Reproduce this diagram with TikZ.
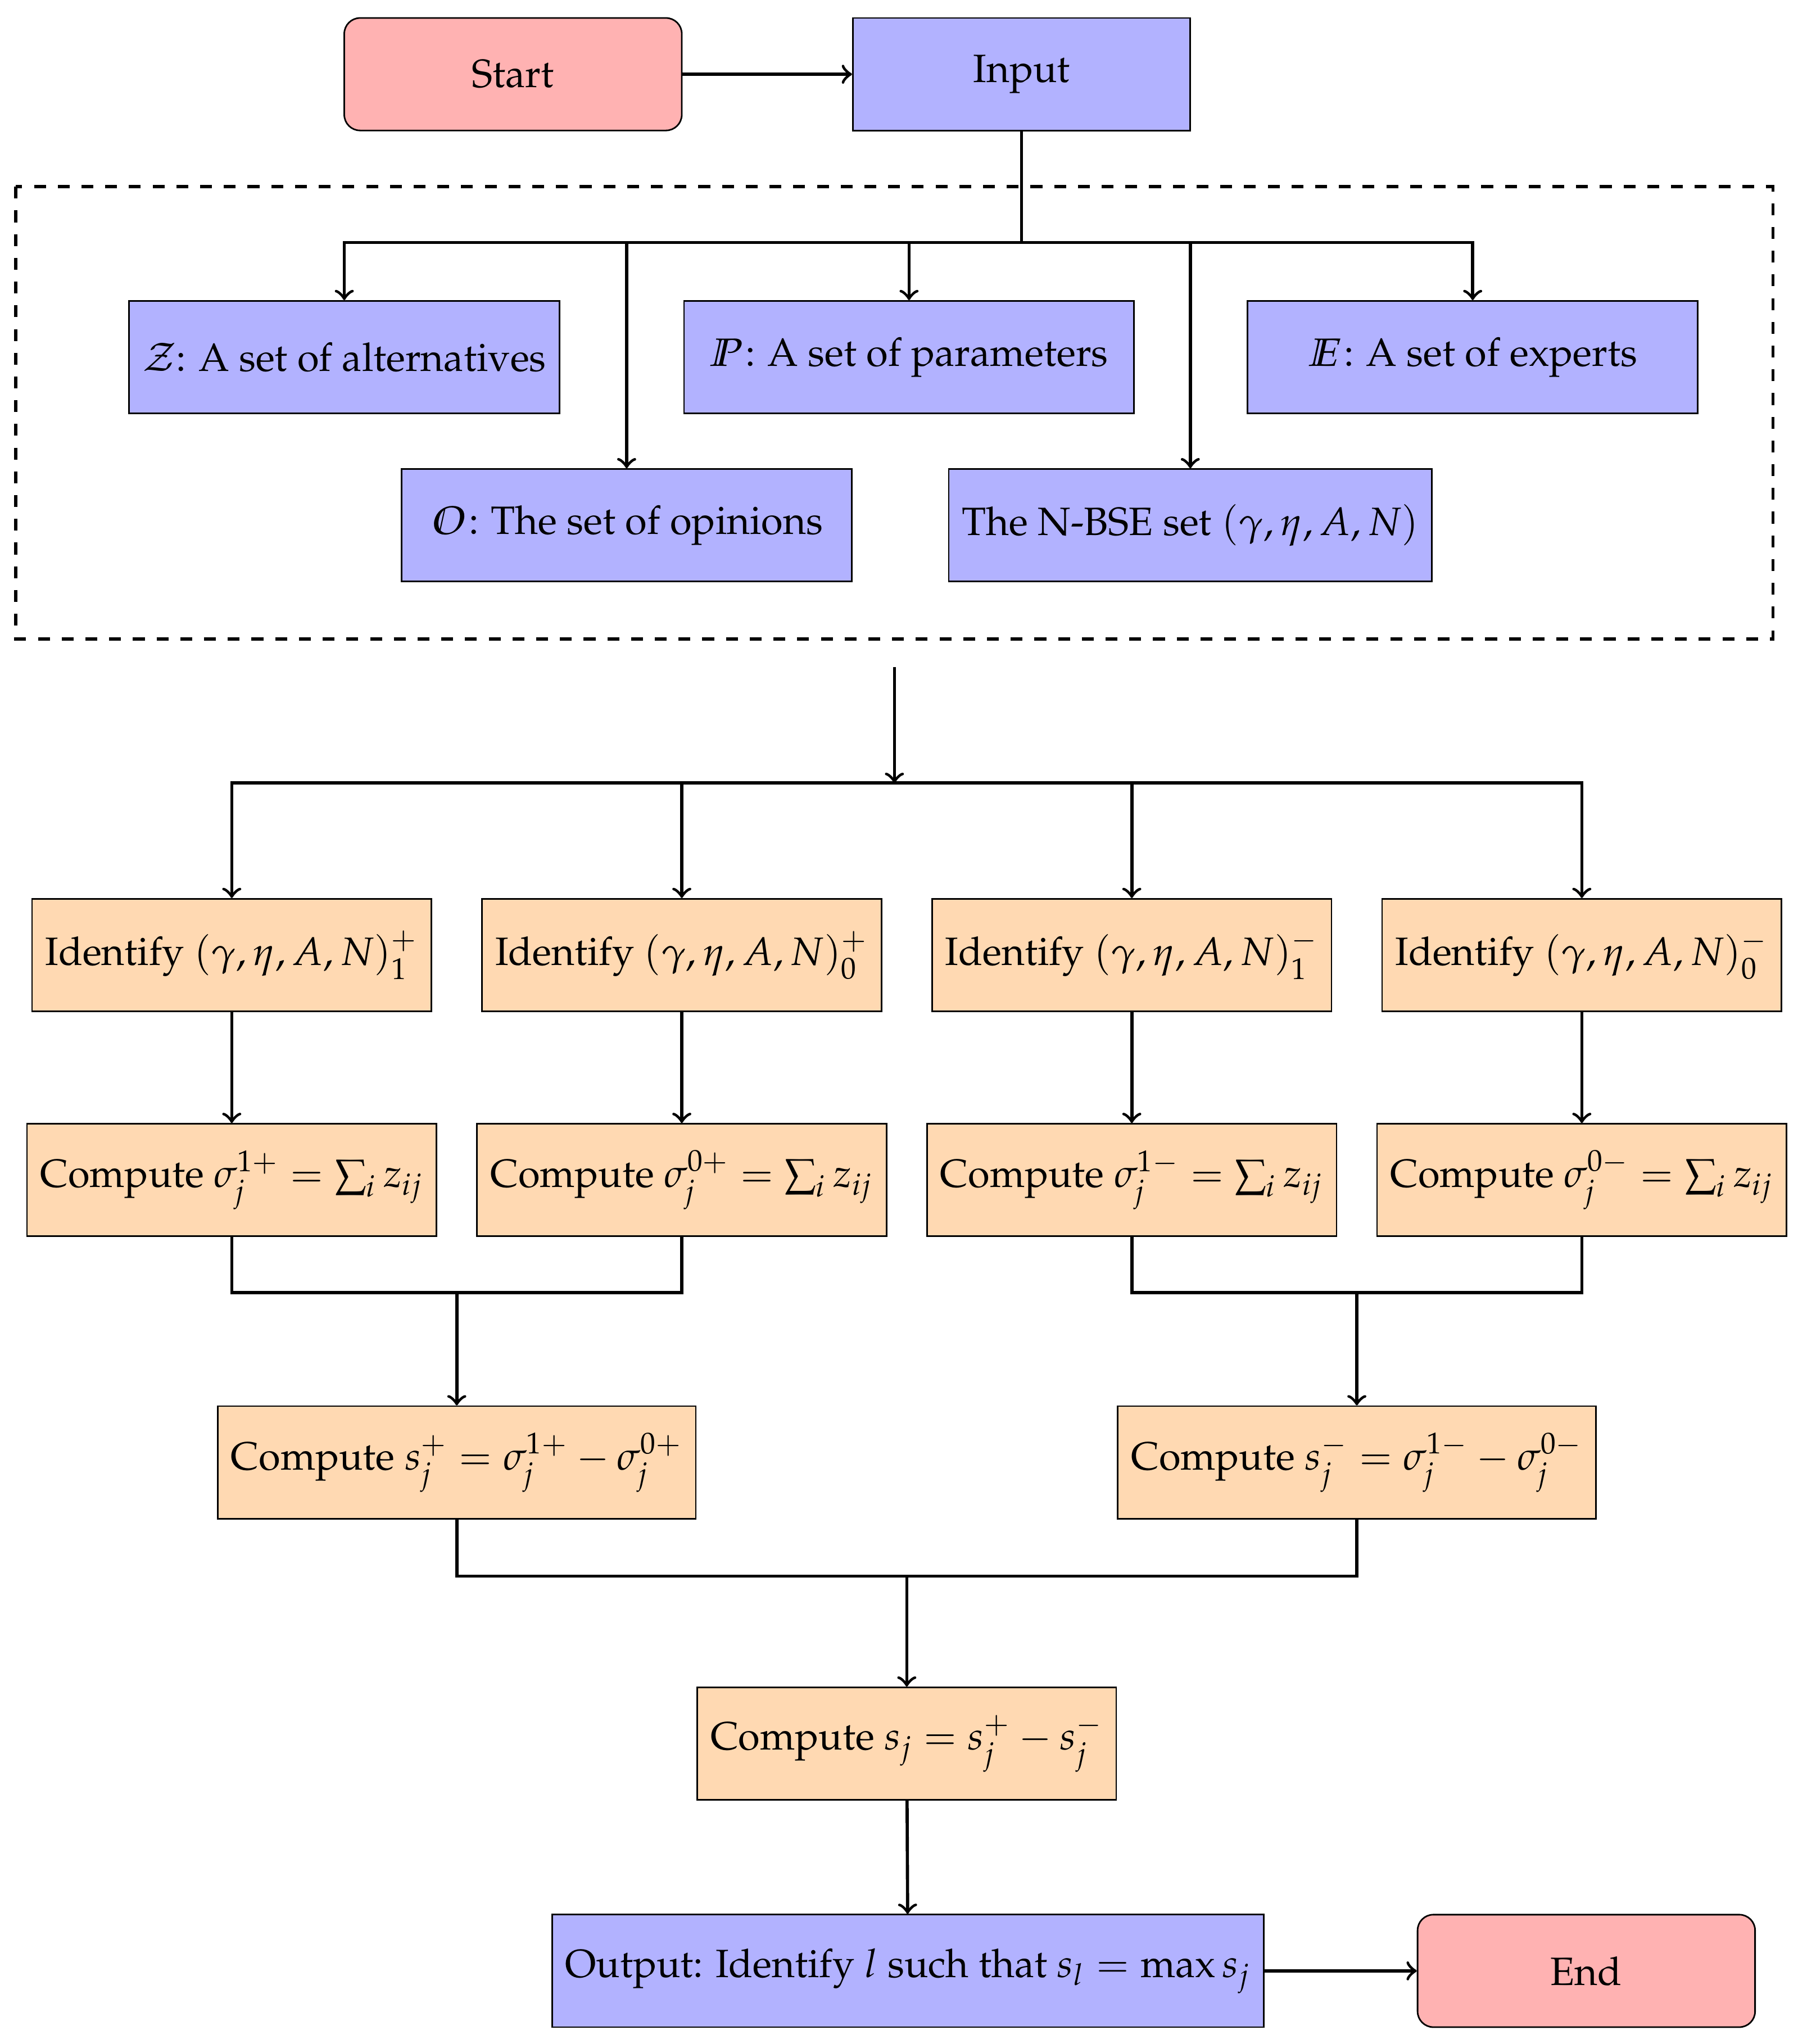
\documentclass[tikz,border=0pt]{standalone}
\usepackage[T1]{fontenc}
\usepackage{amsmath}
\usepackage{mathpazo}
\usetikzlibrary{positioning}
\tikzset{
  terminal/.style={rectangle,rounded corners,minimum width=3cm,minimum height=1cm,draw=black,fill=red!30},
  datain/.style={rectangle,minimum width=3cm,minimum height=1cm,draw=black,fill=blue!30},
  process/.style={rectangle,minimum width=3cm,minimum height=1cm,draw=black,fill=orange!30},
  arrow/.style={thick,->},
  joint/.style={thick}
}
% slanted blackboard letter
\newcommand\slbb[1]{\tikz[baseline=(b.base)]\node[inner sep=0pt,outer sep=0pt,minimum width=0pt,minimum height=0pt,draw=none,fill=none,xslant=0.22,transform shape] (b) {$\mathbb{#1}$};}
\begin{document}
\begin{tikzpicture}
\useasboundingbox (0,0) rectangle (16.06,-18.17);
% top row
\node[terminal] (start) at (4.56,-0.66) {Start};
\node[datain] (input) at (9.08,-0.66) {Input};
\draw[arrow] (start) -- (input);
% input sets
\draw[thick,dashed] (0.14,-1.66) rectangle (15.76,-5.68);
\node[datain] (zset) at (3.06,-3.175) {$\mathcal{Z}$: A set of alternatives};
\node[datain,minimum width=4cm] (pset) at (8.08,-3.175) {\slbb{P}: A set of parameters};
\node[datain,minimum width=4cm] (eset) at (13.09,-3.175) {\slbb{E}: A set of experts};
\node[datain,minimum width=4cm] (oset) at (5.57,-4.67) {\slbb{O}: The set of opinions};
\node[datain] (nbse) at (10.58,-4.67) {The N-BSE set $(\gamma,\eta,A,N)$};
\coordinate (split1) at (9.08,-2.155);
\draw[joint] (input) -- (split1);
\foreach \n in {zset,pset,eset,oset,nbse}
  \draw[arrow] (split1) -| (\n.north);
% four branches
\coordinate (gap) at (7.95,-5.93);
\coordinate (split2) at (7.95,-6.96);
\draw[arrow] (gap) -- (split2);
\foreach \i/\x/\p/\q in {1/2.06/1/+,2/6.06/0/+,3/10.06/1/-,4/14.06/0/-}{
  \node[process] (id\i) at (\x,-8.49) {Identify $(\gamma,\eta,A,N)_{\p}^{\q}$};
  \node[process] (sig\i) at (\x,-10.49) {Compute $\sigma_j^{\p\q}=\sum_i z_{ij}$};
  \draw[arrow] (split2) -| (id\i.north);
  \draw[arrow] (id\i) -- (sig\i);
}
% scores
\node[process] (splus) at (4.06,-13.0) {Compute $s_j^+=\sigma_j^{1+}-\sigma_j^{0+}$};
\node[process] (sminus) at (12.06,-13.0) {Compute $s_j^-=\sigma_j^{1-}-\sigma_j^{0-}$};
\coordinate (joinp) at (4.06,-11.49);
\coordinate (joinm) at (12.06,-11.49);
\draw[joint] (sig1.south) |- (joinp) (sig2.south) |- (joinp);
\draw[joint] (sig3.south) |- (joinm) (sig4.south) |- (joinm);
\draw[arrow] (joinp) -- (splus);
\draw[arrow] (joinm) -- (sminus);
\node[process] (sj) at (8.06,-15.5) {Compute $s_j=s_j^+-s_j^-$};
\coordinate (joins) at (8.06,-14.01);
\draw[joint] (splus.south) |- (joins) (sminus.south) |- (joins);
\draw[arrow] (joins) -- (sj);
% output
\node[datain] (output) at (8.07,-17.52) {Output: Identify $l$ such that $s_l=\max s_j$};
\node[terminal] (finish) at (14.1,-17.52) {End};
\draw[arrow] (sj) -- (output);
\draw[arrow] (output) -- (finish);
\end{tikzpicture}
\end{document}
